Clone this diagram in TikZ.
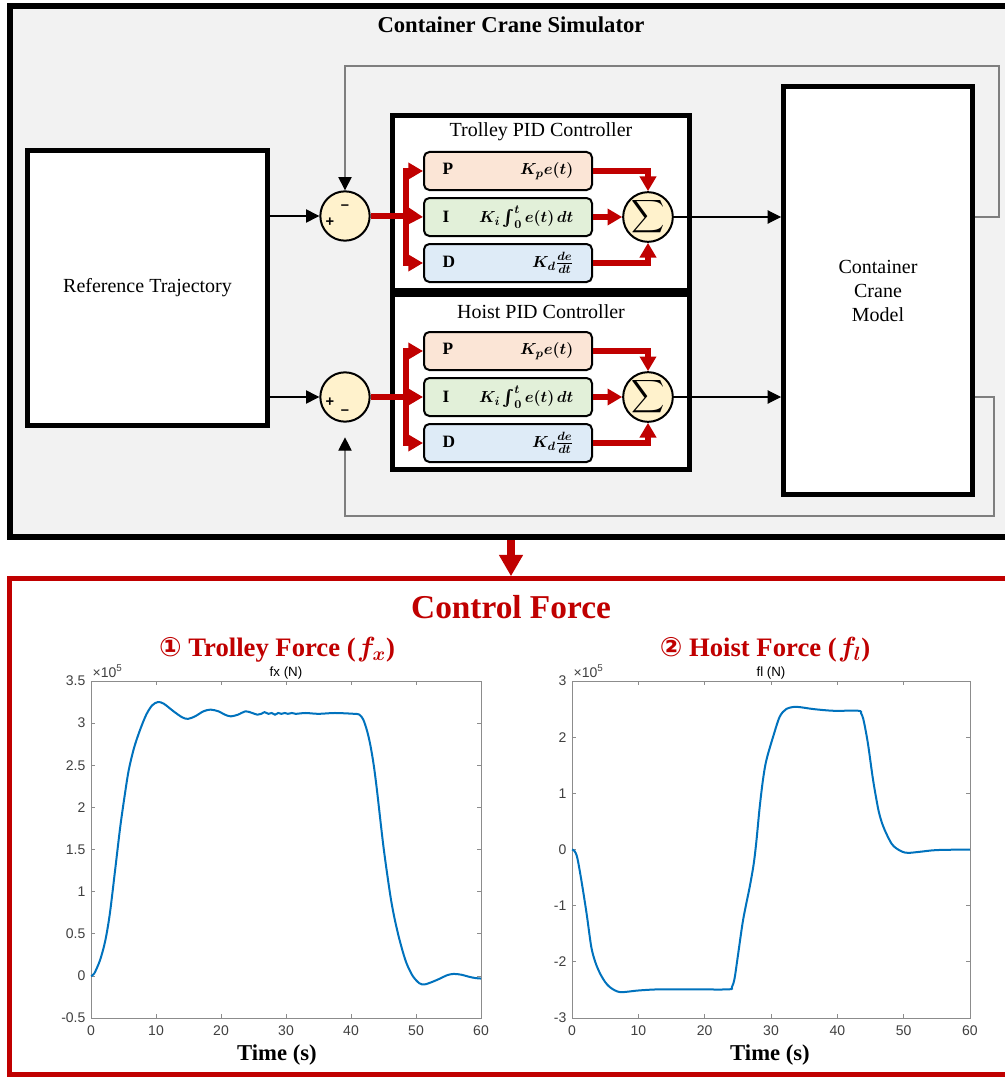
\documentclass[tikz,border=0pt]{standalone}
\usepackage{amsmath}
\usepackage{bm}
\usepackage{fontspec}
\setmainfont{Liberation Serif}
\setsansfont{Liberation Sans}
\newfontfamily\circfont{DejaVu Sans}
\usepackage{xcolor}
\usetikzlibrary{arrows.meta,positioning}

\definecolor{simbg}{HTML}{F2F2F2}
\definecolor{ctrlred}{HTML}{C00000}
\definecolor{pfill}{HTML}{FBE5D6}
\definecolor{ifill}{HTML}{E2F0D9}
\definecolor{dfill}{HTML}{DEEBF7}
\definecolor{sumfill}{HTML}{FFF2CC}
\definecolor{fbgray}{HTML}{7F7F7F}
\definecolor{axgray}{HTML}{8C8C8C}
\definecolor{tickgray}{HTML}{404040}
\definecolor{curveblue}{HTML}{0072BD}

\begin{document}
\begin{tikzpicture}[
  x=0.75pt, y=-0.75pt,
  simframe/.style={draw, line width=4.5pt, fill=simbg, minimum width=752pt, minimum height=398pt},
  forceframe/.style={draw=ctrlred, line width=3.75pt, fill=white, minimum width=752pt, minimum height=372pt},
  bigbox/.style={draw, line width=3.75pt, fill=white, align=center, font=\fontsize{15}{18}\selectfont},
  pidframe/.style={draw, line width=3.75pt, fill=white, minimum width=222.75pt, minimum height=131.25pt},
  pidtitle/.style={font=\fontsize{15}{17}\selectfont},
  term/.style={draw, line width=1.5pt, rounded corners=4pt, minimum height=28.5pt,
    text width=98pt, inner xsep=14pt, align=left, font=\fontsize{13}{15}\selectfont},
  sumnode/.style={circle, draw, line width=1.5pt, fill=sumfill, minimum size=37pt, inner sep=0pt},
  sign/.style={font=\sffamily\bfseries\fontsize{11}{11}\selectfont, inner sep=0pt},
  sig/.style={-{Triangle[length=10pt,width=10pt]}, line width=0.8pt},
  fb/.style={-{Triangle[length=10pt,width=10pt,color=black]}, draw=fbgray, line width=0.9pt},
  redline/.style={draw=ctrlred, line width=4pt},
  redarrow/.style={redline, -{Triangle[length=11pt,width=12pt]}},
  downarrow/.style={draw=ctrlred, line width=6pt, -{Triangle[length=16pt,width=17pt]}},
  axisline/.style={draw=axgray, line width=0.6pt},
  ticklabel/.style={font=\sffamily\fontsize{10.5}{11}\selectfont, text=tickgray, inner sep=1pt},
  plotname/.style={font=\sffamily\fontsize{10}{11}\selectfont, inner sep=1pt},
  curve/.style={draw=curveblue, line width=1.5pt},
  timelabel/.style={font=\bfseries\fontsize{17}{20}\selectfont},
  forcetitle/.style={text=ctrlred, font=\bfseries\fontsize{20}{22}\selectfont, inner sep=1pt}
]
\useasboundingbox (0,0) rectangle (1005,1077);

% simulator block diagram
\node[simframe] (sim) at (511,271.5) {};
\node[font=\bfseries\fontsize{17}{19}\selectfont] (simtitle) at (511,25) {Container Crane Simulator};

\node[bigbox, minimum width=180pt, minimum height=206pt] (ref) at (147.5,288) {Reference Trajectory};
\node[bigbox, minimum width=141.75pt, minimum height=306pt] (model) at (878,290.5) {Container\\Crane\\Model};

\node[sumnode] (sumT) at (345,216) {};
\node[sign] (minusT) at (345,207) {–};
\node[sign] (plusT) at (330,222) {+};
\node[sumnode] (sumH) at (345,397) {};
\node[sign] (plusH) at (330,402) {+};
\node[sign] (minusH) at (345,412) {–};

% trolley controller
\node[pidframe] (trolley) at (541,203) {};
\node[pidtitle] (trolleytitle) at (541,132) {Trolley PID Controller};
\node[term, fill=ifill] (iT) at (508,217) {\textbf{I}\hfill$\bm{K_i \int_0^t e(t)\,dt}$};
\node[term, fill=pfill, above=4.5pt of iT] (pT) {\textbf{P}\hfill$\bm{K_p e(t)}$};
\node[term, fill=dfill, below=4.5pt of iT] (dT) {\textbf{D}\hfill$\bm{K_d \frac{de}{dt}}$};
\node[sumnode] (sigT) at (648,217) {\fontsize{16}{16}\selectfont$\displaystyle\sum$};

% hoist controller
\node[pidframe] (hoist) at (541,382) {};
\node[pidtitle] (hoisttitle) at (541,312) {Hoist PID Controller};
\node[term, fill=ifill] (iH) at (508,397) {\textbf{I}\hfill$\bm{K_i \int_0^t e(t)\,dt}$};
\node[term, fill=pfill, above=4.5pt of iH] (pH) {\textbf{P}\hfill$\bm{K_p e(t)}$};
\node[term, fill=dfill, below=4.5pt of iH] (dH) {\textbf{D}\hfill$\bm{K_d \frac{de}{dt}}$};
\node[sumnode] (sigH) at (648,397) {\fontsize{16}{16}\selectfont$\displaystyle\sum$};

\coordinate (brT) at (406,216);
\coordinate (brH) at (406,397);
\coordinate (fbT) at (999,66);
\coordinate (fbH) at (994,516);

\draw[sig] (ref.east |- sumT.west) -- (sumT.west);
\draw[sig] (ref.east |- sumH.west) -- (sumH.west);
\draw[redline] (sumT.east) -- (brT);
\draw[redarrow] (brT) |- (pT.west);
\draw[redarrow] (brT) -- (iT.west);
\draw[redarrow] (brT) |- (dT.west);
\draw[redarrow] (pT.east) -| (sigT.north);
\draw[redarrow] (iT.east) -- (sigT.west);
\draw[redarrow] (dT.east) -| (sigT.south);
\draw[redline] (sumH.east) -- (brH);
\draw[redarrow] (brH) |- (pH.west);
\draw[redarrow] (brH) -- (iH.west);
\draw[redarrow] (brH) |- (dH.west);
\draw[redarrow] (pH.east) -| (sigH.north);
\draw[redarrow] (iH.east) -- (sigH.west);
\draw[redarrow] (dH.east) -| (sigH.south);
\draw[sig] (sigT.east) -- (sigT.east -| model.west);
\draw[sig] (sigH.east) -- (sigH.east -| model.west);
\draw[fb] (model.east |- sigT.east) -| (fbT) -| (sumT.north);
\draw[fb, shorten >=11pt] (model.east |- sigH.east) -| (fbH) -| (sumH.south);

% control force panel
\node[forceframe] (force) at (511,826.75) {};
\draw[downarrow] (sim.south) -- (force.north);
\node[text=ctrlred, font=\bfseries\fontsize{25}{28}\selectfont] (forcehead) at (511,607) {Control Force};
\node[forcetitle] (fxtitle) at (277,650) {{\circfont\bfseries ①} Trolley Force (\kern1pt$\bm{f_x}$)};
\node[forcetitle] (fltitle) at (765,650) {{\circfont\bfseries ②} Hoist Force (\kern1pt$\bm{f_l}$)};

% fx plot
\draw[axisline] (91,681) rectangle (481,1018);
\foreach \t [count=\k] in {0,10,...,60} {
  \draw[axisline] ({91+6.5*\t},1018) -- ++(0,-4) ({91+6.5*\t},681) -- ++(0,4);
  \node[ticklabel, anchor=north] (fxt\k) at ({91+6.5*\t},1024) {\t};
}
\foreach \v [count=\k] in {-0.5,0,0.5,1,1.5,2,2.5,3,3.5} {
  \draw[axisline] (91,{976-84.3*(\v)}) -- ++(4,0) (481,{976-84.3*(\v)}) -- ++(-4,0);
  \node[ticklabel, anchor=east] (fxv\k) at (87,{976-84.3*(\v)}) {\v};
}
\node[ticklabel, anchor=south west] (fxexp) at (91,679) {×10\textsuperscript{5}};
\node[plotname] (fxname) at (286,673) {fx (N)};
\node[timelabel] (fxtime) at (277,1055) {Time (s)};
\begin{scope}[shift={(91,976)}, xscale=6.5, yscale=-84.3]
\draw[curve] plot[smooth, tension=0.5] coordinates {
  (0,0) (0.5,0.03) (1.4,0.19) (2.2,0.42) (2.9,0.74) (3.7,1.25) (4.5,1.77)
  (5.2,2.15) (5.8,2.44) (6.6,2.7) (7.5,2.91) (8.5,3.1) (9.4,3.21) (10.3,3.25)
  (11.2,3.23) (12.7,3.14) (14,3.07) (14.9,3.05) (16,3.08) (17.3,3.14) (18.4,3.16)
  (19.6,3.14) (20.6,3.1) (21.5,3.08) (22.6,3.1) (23.8,3.14) (24.8,3.12) (25.6,3.1)
  (26.2,3.11) (26.7,3.13) (27.3,3.11) (27.8,3.12) (28.3,3.1) (28.8,3.12) (29.3,3.11)
  (29.8,3.12) (30.3,3.11) (30.9,3.12) (31.5,3.11) (33,3.12) (35,3.11) (37.5,3.12)
  (40.5,3.11) (41.3,3.1) (41.9,3.04) (42.5,2.9) (43,2.73) (43.5,2.5) (44,2.2)
  (45,1.53) (46,0.98) (46.6,0.72) (47.3,0.48) (48,0.28) (48.6,0.14) (49.5,0)
  (50.5,-0.085) (51.3,-0.1) (52.5,-0.07) (53.7,-0.03) (54.8,0.01) (55.8,0.025)
  (57,0.015) (58.2,-0.01) (59.2,-0.025) (60,-0.03)};
\end{scope}

% fl plot
\draw[axisline] (572,681) rectangle (970,1018);
\foreach \t [count=\k] in {0,10,...,60} {
  \draw[axisline] ({572+6.633*\t},1018) -- ++(0,-4) ({572+6.633*\t},681) -- ++(0,4);
  \node[ticklabel, anchor=north] (flt\k) at ({572+6.633*\t},1024) {\t};
}
\foreach \v [count=\k] in {-3,-2,-1,0,1,2,3} {
  \draw[axisline] (572,{849.5-56.17*(\v)}) -- ++(4,0) (970,{849.5-56.17*(\v)}) -- ++(-4,0);
  \node[ticklabel, anchor=east] (flv\k) at (568,{849.5-56.17*(\v)}) {\v};
}
\node[ticklabel, anchor=south west] (flexp) at (572,679) {×10\textsuperscript{5}};
\node[plotname] (flname) at (771,673) {fl (N)};
\node[timelabel] (fltime) at (770,1055) {Time (s)};
\begin{scope}[shift={(572,849.5)}, xscale=6.633, yscale=-56.17]
\draw[curve] plot[smooth, tension=0.5] coordinates {
  (0,0) (0.4,-0.03) (0.8,-0.15) (1.4,-0.54) (2.2,-1.14) (2.9,-1.73) (3.5,-2)
  (4.2,-2.2) (5,-2.36) (5.7,-2.45) (6.5,-2.51) (7.3,-2.54) (8.5,-2.53) (10,-2.51)
  (13,-2.49) (18,-2.49) (23.6,-2.49) (24.1,-2.45) (24.5,-2.3) (25,-1.9)
  (25.8,-1.25) (26.8,-0.66) (27.4,-0.25) (27.8,0.15) (28.3,0.76) (28.8,1.25)
  (29.3,1.59) (30.3,2) (31.3,2.36) (32.3,2.5) (33.8,2.54) (36.4,2.5) (39.4,2.47)
  (43.2,2.47) (43.6,2.42) (43.9,2.33) (44.3,2.1) (44.7,1.82) (45.4,1.23)
  (46.2,0.7) (46.8,0.45) (47.4,0.28) (48.2,0.1) (48.9,0.02) (49.8,-0.04)
  (50.7,-0.06) (52.5,-0.04) (55,-0.01) (60,0)};
\end{scope}
\end{tikzpicture}
\end{document}
